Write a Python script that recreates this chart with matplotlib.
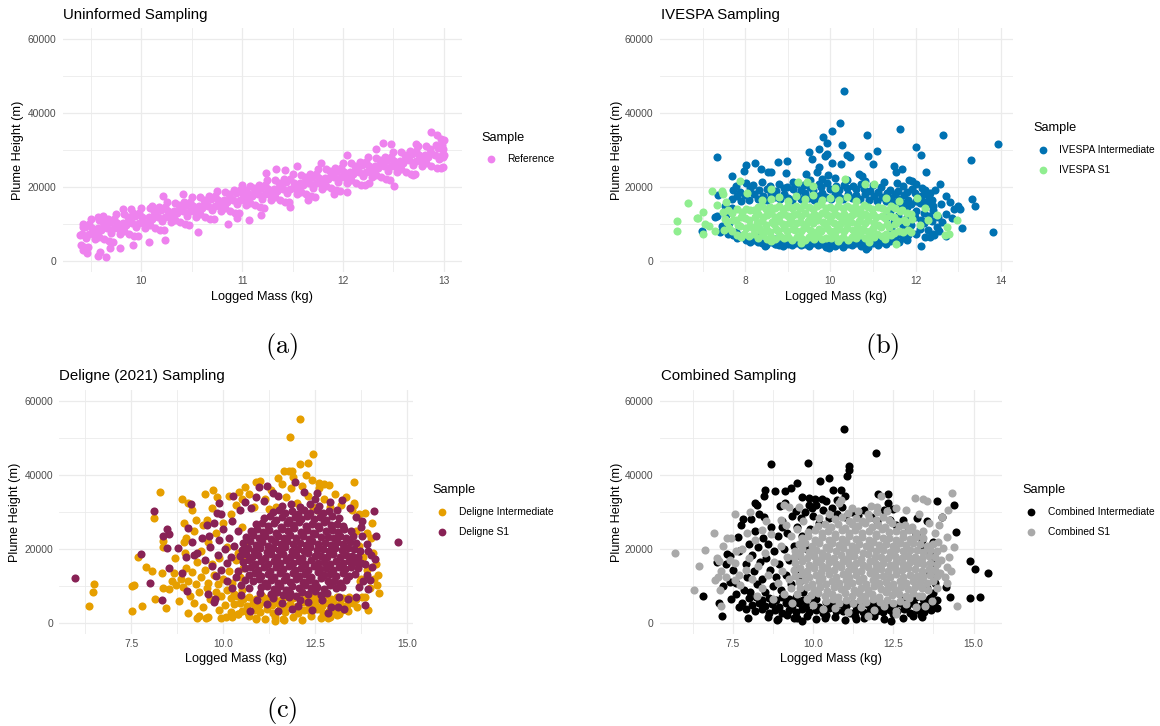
import matplotlib
matplotlib.use("Agg")
import matplotlib.pyplot as plt
from matplotlib.lines import Line2D

W, H = 1160, 726

# ---- panel (a): uninformed sampling, (logged mass, plume height) ----
ref_points = [
    (9.40, 4400), (9.41, 7400), (9.42, 9900), (9.43, 3800),
    (9.45, 6100), (9.44, 9100), (9.47, 3700), (9.48, 9900),
    (9.51, 8800), (9.48, 7300), (9.50, 11300), (9.53, 7200),
    (9.54, 5900), (9.57, 8800), (9.56, 7200), (9.58, 11200),
    (9.62, 10500), (9.58, 6600), (9.60, 8300), (9.63, 9500),
    (9.63, 5900), (9.66, 8900), (9.67, 11400), (9.68, 5300),
    (9.70, 7600), (9.69, 10600), (9.72, 5200), (9.73, 11400),
    (9.76, 10300), (9.73, 8800), (9.75, 12800), (9.78, 8700),
    (9.79, 7400), (9.82, 10300), (9.81, 8700), (9.83, 12700),
    (9.87, 12000), (9.83, 8100), (9.85, 9800), (9.88, 11000),
    (9.88, 7400), (9.91, 10400), (9.92, 12900), (9.93, 6800),
    (9.95, 9200), (9.94, 12200), (9.97, 6800), (9.98, 13000),
    (10.01, 11900), (9.98, 10400), (10.00, 14400), (10.03, 10300),
    (10.04, 9000), (10.07, 11900), (10.06, 10300), (10.08, 14300),
    (10.12, 13600), (10.08, 9700), (10.10, 11400), (10.13, 12600),
    (10.13, 9000), (10.16, 12000), (10.17, 14500), (10.18, 8400),
    (10.20, 10700), (10.19, 13700), (10.22, 8300), (10.23, 14500),
    (10.26, 13400), (10.23, 11900), (10.25, 15900), (10.28, 11800),
    (10.29, 10500), (10.32, 13400), (10.31, 11800), (10.33, 15800),
    (10.37, 15100), (10.33, 11200), (10.35, 12900), (10.38, 14100),
    (10.38, 10500), (10.41, 13500), (10.42, 16000), (10.43, 9900),
    (10.45, 12200), (10.44, 15200), (10.47, 9800), (10.48, 16000),
    (10.51, 14900), (10.48, 13400), (10.50, 17400), (10.53, 13300),
    (10.54, 12000), (10.57, 14900), (10.56, 13300), (10.58, 17300),
    (10.62, 16600), (10.58, 12700), (10.60, 14400), (10.63, 15600),
    (10.63, 12000), (10.66, 15000), (10.67, 17500), (10.68, 11400),
    (10.70, 13700), (10.69, 16700), (10.72, 11300), (10.73, 17500),
    (10.76, 16400), (10.73, 14900), (10.75, 18900), (10.78, 14800),
    (10.79, 13500), (10.82, 16400), (10.81, 14800), (10.83, 18800),
    (10.87, 18100), (10.83, 14200), (10.85, 15900), (10.88, 17100),
    (10.88, 13600), (10.91, 16600), (10.92, 19100), (10.93, 13000),
    (10.95, 15300), (10.94, 18300), (10.97, 12900), (10.98, 19100),
    (11.01, 18000), (10.98, 16500), (11.00, 20500), (11.03, 16400),
    (11.04, 15100), (11.07, 18000), (11.06, 16400), (11.08, 20400),
    (11.12, 19700), (11.08, 15800), (11.10, 17500), (11.13, 18700),
    (11.13, 15100), (11.16, 18100), (11.17, 20600), (11.18, 14500),
    (11.20, 16800), (11.19, 19800), (11.22, 14400), (11.23, 20600),
    (11.26, 19500), (11.23, 18000), (11.25, 22000), (11.28, 17900),
    (11.29, 16600), (11.32, 19500), (11.31, 17900), (11.33, 21900),
    (11.37, 21200), (11.33, 17300), (11.35, 19000), (11.38, 20200),
    (11.38, 16600), (11.41, 19600), (11.42, 22100), (11.43, 16000),
    (11.45, 18300), (11.44, 21300), (11.47, 15900), (11.48, 22100),
    (11.51, 21000), (11.48, 19500), (11.50, 23500), (11.53, 19400),
    (11.54, 18100), (11.57, 21000), (11.56, 19400), (11.58, 23400),
    (11.62, 22700), (11.58, 18800), (11.60, 20500), (11.63, 21700),
    (11.63, 18100), (11.66, 21100), (11.67, 23600), (11.68, 17500),
    (11.70, 19800), (11.69, 22800), (11.72, 17400), (11.73, 23600),
    (11.76, 22500), (11.73, 21000), (11.75, 25000), (11.78, 20900),
    (11.79, 19600), (11.82, 22500), (11.81, 20900), (11.83, 24900),
    (11.87, 24300), (11.83, 20400), (11.85, 22100), (11.88, 23300),
    (11.88, 19700), (11.91, 22700), (11.92, 25200), (11.93, 19100),
    (11.95, 21400), (11.94, 24400), (11.97, 19000), (11.98, 25200),
    (12.01, 24100), (11.98, 22600), (12.00, 26600), (12.03, 22500),
    (12.04, 21200), (12.07, 24100), (12.06, 22500), (12.08, 26500),
    (12.12, 25800), (12.08, 21900), (12.10, 23600), (12.13, 24800),
    (12.13, 21200), (12.16, 24200), (12.17, 26700), (12.18, 20600),
    (12.20, 22900), (12.19, 25900), (12.22, 20500), (12.23, 26700),
    (12.26, 25600), (12.23, 24100), (12.25, 28100), (12.28, 24000),
    (12.29, 22700), (12.32, 25600), (12.31, 24000), (12.33, 28000),
    (12.37, 27300), (12.33, 23400), (12.35, 25100), (12.38, 26300),
    (12.38, 22700), (12.41, 25700), (12.42, 28200), (12.43, 22100),
    (12.45, 24400), (12.44, 27400), (12.47, 22000), (12.48, 28200),
    (12.51, 27100), (12.48, 25600), (12.50, 29600), (12.53, 25500),
    (12.54, 24200), (12.57, 27100), (12.56, 25500), (12.58, 29500),
    (12.62, 28800), (12.58, 24900), (12.60, 26600), (12.63, 27800),
    (12.63, 24200), (12.66, 27200), (12.67, 29700), (12.68, 23600),
    (12.70, 25900), (12.69, 28900), (12.72, 23500), (12.73, 29700),
    (12.76, 28600), (12.73, 27100), (12.75, 31100), (12.78, 27000),
    (12.79, 25700), (12.82, 28600), (12.81, 27000), (12.83, 31000),
    (12.87, 30300), (12.83, 26400), (12.85, 28100), (12.88, 29300),
    (12.88, 25800), (12.91, 28800), (12.92, 31300), (12.93, 25200),
    (12.95, 27500), (12.94, 30500), (12.97, 25100), (12.98, 31300),
    (12.99, 30200), (12.98, 28700), (13.00, 32700), (13.00, 28600),
    (9.39, 7000), (9.42, 9300), (9.42, 3000), (9.46, 2100), (9.57, 1200),
    (9.65, 1000), (9.59, 2500), (9.57, 12000), (9.62, 12200), (9.69, 3400),
    (9.79, 3400), (9.82, 14000), (9.90, 14000), (9.92, 4300), (10.07, 5000),
    (10.10, 15000), (10.21, 17500), (10.23, 5700), (10.41, 18100), (10.56, 7900),
    (10.86, 10000), (10.95, 11500), (11.04, 19200), (11.07, 11100), (11.19, 12400),
    (11.24, 23700), (11.34, 25000), (11.43, 24600), (11.48, 14700), (11.54, 25700),
    (12.88, 34900), (12.93, 34000), (12.40, 31950), (12.48, 31800), (12.33, 30200),
    (12.51, 20250), (12.04, 28600), (12.04, 18700), (12.20, 26400), (11.78, 26550),
    (11.65, 16500), (12.99, 25500), (12.99, 28200), (12.97, 33100), (12.70, 23200),
    (12.73, 31600), (12.26, 21150), (11.91, 18000),
]

# ---- panel (b): IVESPA sampling ----
ivespa_int = [
    (7.70, 16800), (7.72, 19300), (7.80, 17500), (7.78, 20200), (7.91, 16300), (7.89, 18700),
    (8.00, 17900), (8.02, 21000), (8.10, 16600), (8.12, 19800), (8.21, 18200), (8.19, 20600),
    (8.30, 16900), (8.32, 19100), (8.41, 17600), (8.39, 21300), (8.50, 16400), (8.52, 19600),
    (8.61, 18000), (8.59, 20400), (8.70, 17200), (8.72, 19000), (8.81, 16700), (8.79, 20800),
    (8.90, 18100), (8.92, 19700), (9.01, 17000), (8.99, 20100), (9.10, 16500), (9.12, 19400),
    (9.11, 21500), (9.21, 17800), (9.19, 20900), (9.30, 16900), (9.32, 19200), (9.41, 18300),
    (9.39, 20500), (9.50, 17100), (9.52, 19900), (9.51, 21800), (9.61, 16600), (9.59, 19100),
    (9.70, 17700), (9.72, 20700), (9.81, 18400), (9.79, 20000), (9.80, 22300), (9.90, 17300),
    (9.92, 21100), (10.01, 16800), (9.99, 19500), (10.10, 18000), (10.12, 20300), (10.11, 22500),
    (10.21, 17400), (10.19, 19300), (10.30, 16700), (10.32, 20600), (10.41, 18200), (10.39, 19800),
    (10.40, 21900), (10.50, 17000), (10.52, 20200), (10.61, 17800), (10.59, 19400), (10.70, 16900),
    (10.72, 20800), (10.81, 18100), (10.79, 19600), (10.80, 21600), (10.90, 16400), (10.92, 19000),
    (11.01, 17600), (10.99, 20500), (11.10, 16300), (11.12, 18800), (11.21, 17300), (11.19, 19900),
    (11.30, 16100), (11.32, 18500), (11.41, 17000), (11.39, 19300), (11.50, 15900), (11.52, 18200),
    (11.61, 16800), (11.59, 19000), (11.70, 15700), (11.72, 17900), (11.71, 20200), (11.81, 16500),
    (11.79, 18600), (11.90, 15400), (11.92, 19500), (11.91, 21600), (12.01, 16200), (11.99, 18300),
    (12.00, 20800), (12.10, 15600), (12.12, 17700), (12.21, 16000), (12.19, 18000), (12.30, 15300),
    (12.32, 17300), (12.41, 14800), (12.39, 16400),
    (11.25, 21400), (11.55, 21000), (11.85, 22000), (12.15, 19800), (12.45, 19300), (12.60, 15500),
    (12.70, 12800), (12.85, 11500), (12.90, 14000), (12.55, 8200), (12.70, 6800),
    (7.60, 7400), (7.71, 6900), (7.80, 6300), (7.79, 7800), (7.90, 6800), (8.01, 5600),
    (8.10, 6300), (8.12, 5000), (8.20, 5800), (8.31, 5200), (8.29, 6500), (8.40, 4800),
    (8.51, 5500), (8.49, 4300), (8.60, 5100), (8.71, 4600), (8.69, 5900), (8.80, 4400),
    (8.91, 5300), (8.89, 4000), (9.00, 4700), (9.11, 5500), (9.09, 4200), (9.20, 4900),
    (9.31, 4300), (9.29, 5700), (9.40, 4600), (9.51, 5200), (9.49, 4000), (9.60, 4800),
    (9.71, 4200), (9.69, 5600), (9.80, 4500), (9.91, 5300), (9.89, 3800), (10.00, 4900),
    (10.11, 4100), (10.09, 5600), (10.20, 4600), (10.31, 5100), (10.29, 3900), (10.40, 4700),
    (10.51, 4300), (10.49, 5500), (10.60, 4900), (10.71, 4000), (10.69, 5400), (10.80, 4600),
    (10.91, 5200), (10.89, 3700), (11.00, 4800), (11.11, 4300), (11.09, 5700), (11.20, 5000),
    (11.31, 4600), (11.29, 6000), (11.40, 5300), (11.51, 5800), (11.60, 5100), (11.71, 6200),
    (11.80, 5700),
    (11.30, 11500), (11.41, 8800), (11.39, 13500), (11.50, 10600), (11.61, 7400), (11.59, 12300),
    (11.60, 14800), (11.70, 9500), (11.81, 7000), (11.79, 12000), (11.80, 14500), (11.90, 9800),
    (12.01, 7200), (11.99, 11800), (12.00, 13600), (12.10, 8600), (12.12, 11000), (12.21, 6600),
    (12.19, 10200), (12.20, 13000), (12.30, 8300), (12.32, 12300), (12.41, 7300), (12.39, 10900),
    (12.40, 13900), (12.50, 9200), (12.52, 11800), (12.61, 10500),
    (7.45, 9500), (7.55, 12500), (7.62, 10200), (7.68, 14200), (7.30, 11800), (7.35, 12200),
    (7.40, 7800), (7.52, 15000),
    (10.32, 46100), (10.22, 37400), (10.04, 35300), (9.82, 33500), (9.91, 32000), (9.73, 30300),
    (9.50, 29500), (10.26, 31300), (9.93, 29000), (9.87, 28400), (9.56, 27600), (10.40, 28800),
    (10.47, 28100), (10.85, 34200), (10.87, 28500), (11.09, 29700), (10.99, 26300), (11.63, 35600),
    (12.00, 30800), (12.12, 28600), (12.63, 34000), (13.30, 27300), (13.92, 31600), (13.81, 7900),
    (13.31, 16800), (13.38, 15000), (13.00, 14900), (13.03, 14000), (13.08, 9000), (12.80, 16000),
    (12.71, 17600), (12.56, 20700), (12.23, 24100), (12.22, 19100), (12.33, 18500), (12.12, 4100),
    (12.34, 6500), (12.44, 7000), (7.33, 28100), (6.98, 8100), (7.37, 17800), (7.70, 23000),
    (8.02, 26100), (8.24, 26600), (7.98, 24300), (8.37, 24900), (8.54, 24100), (8.60, 24100),
    (8.76, 26800), (8.99, 27000), (8.96, 23900), (9.43, 23600), (9.68, 24100), (9.72, 25400),
    (10.03, 26600), (9.95, 23400), (10.25, 26300), (10.67, 23600), (10.75, 23000), (11.49, 25800),
    (11.67, 25000), (11.53, 24100), (8.46, 4100), (8.72, 4700), (8.89, 5400), (9.56, 5400),
    (9.97, 3600), (9.95, 4500), (10.46, 4500), (10.83, 3200), (10.80, 4100), (10.81, 5400),
    (9.79, 5000),
]

ivespa_s1 = [
    (7.50, 8500), (7.52, 11400), (7.48, 13300), (7.61, 8900), (7.58, 10600), (7.60, 13900),
    (7.69, 8200), (7.72, 11200), (7.70, 13100),
    (7.80, 7000), (7.82, 9700), (7.78, 11100), (7.81, 14000), (7.91, 6600), (7.88, 9400),
    (7.90, 11900), (7.92, 13300), (7.98, 7300), (8.02, 8800), (8.00, 11500), (8.01, 14100),
    (8.10, 6800), (8.12, 9500), (8.08, 11000), (8.11, 13700), (8.21, 7400), (8.19, 9000),
    (8.22, 11800), (8.20, 13900),
    (8.30, 6200), (8.32, 8800), (8.28, 10200), (8.31, 12600), (8.29, 14500),
    (8.41, 6900), (8.38, 8100), (8.40, 10700), (8.42, 12000), (8.39, 14900), (8.40, 16400),
    (8.50, 6000), (8.52, 8500), (8.48, 9800), (8.51, 12500), (8.49, 14000),
    (8.61, 6500), (8.59, 7900), (8.62, 10500), (8.60, 12900), (8.58, 14600), (8.61, 16900),
    (8.70, 5900), (8.72, 8600), (8.68, 10100), (8.71, 11900), (8.69, 14300),
    (8.81, 6700), (8.78, 8200), (8.80, 10800), (8.82, 12400), (8.79, 15000), (8.80, 17200),
    (8.90, 6100), (8.92, 8900), (8.88, 9900), (8.91, 12700), (8.89, 14100),
    (9.01, 6400), (8.99, 8000), (9.02, 10400), (9.00, 12100), (8.98, 14700), (9.01, 16300),
    (9.10, 5800), (9.12, 8700), (9.08, 10900), (9.11, 12500), (9.09, 14400),
    (9.21, 6600), (9.18, 8300), (9.20, 10300), (9.22, 12800), (9.19, 14900), (9.20, 17500),
    (9.30, 6200), (9.32, 8100), (9.28, 10600), (9.31, 12200), (9.29, 14200),
    (9.41, 5700), (9.39, 8800), (9.42, 10000), (9.40, 13000), (9.38, 15200), (9.41, 16800),
    (9.50, 6500), (9.52, 8400), (9.48, 10700), (9.51, 12000), (9.49, 14500),
    (9.61, 6000), (9.58, 7900), (9.60, 10200), (9.62, 12600), (9.59, 14000), (9.60, 17800),
    (9.70, 6800), (9.72, 8600), (9.68, 11000), (9.71, 12300), (9.69, 14800),
    (9.81, 5900), (9.79, 8200), (9.82, 10500), (9.80, 12900), (9.78, 15300), (9.81, 16600),
    (9.90, 6300), (9.92, 9000), (9.88, 10100), (9.91, 12400), (9.89, 14300),
    (10.01, 6100), (9.98, 8000), (10.00, 10800), (10.02, 12100), (9.99, 14600), (10.00, 17100),
    (10.10, 6700), (10.12, 8500), (10.08, 10400), (10.11, 12700), (10.09, 14100),
    (10.21, 6000), (10.19, 8700), (10.22, 10000), (10.20, 12300), (10.18, 15000), (10.21, 16500),
    (10.30, 6400), (10.32, 8100), (10.28, 10900), (10.31, 12800), (10.29, 14400),
    (10.41, 5800), (10.38, 8900), (10.40, 10300), (10.42, 12000), (10.39, 14800), (10.40, 17400),
    (10.50, 6600), (10.52, 8300), (10.48, 10600), (10.51, 12500), (10.49, 14200),
    (10.61, 6200), (10.59, 8000), (10.62, 10100), (10.60, 12900), (10.58, 14700), (10.61, 16200),
    (10.70, 6900), (10.72, 8700), (10.68, 10800), (10.71, 12200), (10.69, 14000),
    (10.81, 6300), (10.78, 8400), (10.80, 10400), (10.82, 12600), (10.79, 15100),
    (10.90, 7000), (10.92, 8200), (10.88, 11000), (10.91, 12300), (10.89, 14500),
    (11.01, 6500), (10.99, 8800), (11.02, 10200), (11.00, 12800), (10.98, 14100),
    (11.10, 7200), (11.12, 9600), (11.08, 11800), (11.11, 14600),
    (11.21, 6800), (11.19, 9200), (11.22, 12300), (11.20, 14200),
    (11.30, 7400), (11.32, 9900), (11.28, 11600), (11.31, 13800),
    (11.41, 7000), (11.38, 9300), (11.40, 12200), (11.42, 14900),
    (11.50, 7600), (11.52, 10100), (11.48, 11900), (11.51, 14300),
    (11.61, 8200), (11.59, 10800), (11.62, 13400), (11.70, 7700), (11.72, 11200), (11.68, 13800),
    (11.81, 8400), (11.78, 10500), (11.80, 13000), (11.90, 7900), (11.92, 11400), (11.88, 12600),
    (6.39, 10800), (6.41, 8100), (6.66, 15600), (6.86, 11700), (6.90, 11500), (7.00, 13200),
    (7.02, 7200), (7.05, 10000), (7.15, 9500), (7.21, 18900), (7.30, 8200), (7.35, 15200),
    (7.45, 18900), (7.49, 18000), (7.55, 16000), (7.88, 21600), (8.05, 18500), (8.60, 19500),
    (9.23, 21400), (9.44, 21400), (9.60, 20300), (10.34, 22300), (10.10, 19800), (10.80, 20900),
    (11.01, 20700), (11.30, 17000), (11.60, 16200), (12.02, 17100), (12.22, 14400), (12.10, 9600),
    (12.30, 11000), (12.50, 12500), (12.74, 9200), (12.97, 11100), (12.77, 7200), (12.69, 7000),
    (11.54, 4500), (11.28, 5900), (10.17, 5400), (10.90, 5200), (9.30, 4900), (8.60, 5300),
]

# ---- panel (c): Deligne (2021) sampling ----
deligne_int = [
    (10.90, 1500), (11.15, 1200), (11.40, 1800), (11.65, 1000), (11.90, 1600), (12.15, 900),
    (12.40, 1900), (12.65, 1300), (12.90, 1700), (13.10, 2200),
    (10.50, 3300), (10.67, 2800), (10.84, 3700), (11.01, 3000), (11.18, 3900), (11.35, 2700),
    (11.52, 3500), (11.69, 3100), (11.86, 4000), (12.03, 2900), (12.20, 3600), (12.37, 3200),
    (12.54, 3800), (12.71, 2800), (12.88, 3400), (13.05, 3000), (13.22, 3700), (13.39, 3300),
    (10.30, 5100), (10.47, 5600), (10.64, 4700), (10.81, 5400), (10.98, 4900), (11.15, 5700),
    (11.32, 5000), (11.49, 5500), (11.66, 4800), (11.83, 5300), (12.00, 4600), (12.17, 5800),
    (12.34, 5000), (12.51, 5400), (12.68, 4700), (12.85, 5600), (13.02, 5100), (13.19, 5300),
    (13.36, 4900), (13.53, 5500),
    (10.20, 6900), (10.37, 7300), (10.54, 6500), (10.71, 7100), (10.88, 6600), (11.05, 7400),
    (11.22, 6800), (11.39, 7200), (11.56, 6400), (11.73, 7000), (11.90, 6700), (12.07, 7300),
    (12.24, 6600), (12.41, 7100), (12.58, 6900), (12.75, 7400), (12.92, 6500), (13.09, 7000),
    (13.26, 6800), (13.43, 7200), (13.60, 6600), (13.77, 7100),
    (8.85, 12000), (8.90, 9700), (9.00, 15000), (9.05, 11500), (9.10, 7500), (9.15, 13800),
    (9.20, 5500), (9.25, 10500), (9.30, 16500), (9.35, 8500), (9.40, 12500), (9.45, 4500),
    (9.50, 14500), (9.55, 9500), (9.60, 11000), (9.65, 6500), (9.70, 16000), (9.75, 13000),
    (9.80, 8500), (9.85, 10500), (9.90, 3500), (9.95, 7500), (10.00, 12000), (10.05, 5000),
    (10.10, 9000), (10.15, 14000), (10.20, 3000), (10.25, 11000), (10.30, 8000), (10.35, 17000),
    (10.40, 2500), (10.45, 12500), (10.50, 9000), (10.55, 15000), (9.40, 19500), (9.60, 22000),
    (9.80, 24500), (10.00, 27000), (10.20, 29500), (9.55, 28000), (9.70, 31000), (10.35, 32000),
    (10.50, 26000), (10.60, 21000), (9.20, 25000), (9.00, 23000), (8.95, 19000), (9.15, 30500),
    (10.10, 20500), (9.90, 17500), (10.40, 19000), (10.65, 18000), (8.70, 17500), (8.60, 11500),
    (8.80, 6000), (9.35, 2000), (9.60, 1600), (9.95, 1400), (10.25, 1800), (10.70, 2100),
    (10.50, 33500), (10.70, 35000), (10.85, 31500), (11.00, 38500), (11.15, 33500), (11.30, 36000),
    (11.45, 31500), (11.60, 37500), (11.70, 34000), (11.85, 36500), (12.00, 32500), (12.15, 37000),
    (12.30, 34500), (12.45, 31500), (12.60, 36500), (12.75, 33500), (12.90, 31500), (13.05, 35000),
    (13.20, 32000), (13.35, 34000), (13.50, 30500), (11.25, 30800), (12.55, 30500), (11.90, 39500),
    (12.25, 40000),
    (13.60, 25000), (13.70, 21000), (13.80, 18000), (13.90, 14500), (13.75, 12000), (14.00, 9500),
    (13.85, 7000), (13.65, 4500), (13.95, 3500), (14.10, 12000), (14.15, 16000), (13.70, 29500),
    (13.55, 32000), (14.05, 27000), (13.90, 24500),
    (12.10, 55300), (11.83, 50300), (12.45, 45600), (12.10, 43100), (12.30, 43200), (11.65, 41000),
    (11.80, 41000), (11.87, 41000), (11.49, 39200), (12.42, 38700), (12.62, 38000), (12.75, 37700),
    (12.87, 37300), (13.55, 38200), (8.28, 35400), (8.87, 33500), (9.03, 32400), (9.51, 34800),
    (9.71, 36000), (9.84, 34200), (10.15, 34400), (10.44, 35500), (10.59, 36700), (10.89, 38200),
    (8.13, 28500), (7.69, 18000), (7.89, 15100), (8.07, 14200), (7.51, 10100), (7.58, 10400),
    (6.48, 10600), (6.45, 8500), (6.36, 4700), (7.51, 3300), (7.80, 4700), (8.15, 6500),
    (8.44, 4000), (8.36, 9500), (8.53, 9200), (8.73, 10400), (8.33, 13500), (8.65, 13700),
    (8.93, 27000), (8.35, 22200), (8.35, 20500), (8.93, 22000), (9.25, 27900), (9.45, 26500),
    (9.03, 2700), (9.30, 1500), (9.53, 1500), (10.07, 1800), (10.39, 2500), (11.42, 700),
    (11.62, 1100), (10.89, 1100), (12.86, 1300), (13.16, 2500), (14.22, 13000), (14.18, 10400),
    (14.23, 8100), (14.07, 19100), (14.03, 23000), (13.57, 32600), (13.85, 29700), (13.71, 11300),
]

deligne_s1 = [
    (11.30, 8000), (11.47, 8500), (11.64, 7600), (11.81, 8300), (11.98, 7400), (12.15, 8400),
    (12.32, 7800), (12.49, 8600), (12.66, 7700), (12.83, 8200),
    (11.03, 9700), (11.20, 10200), (11.37, 9300), (11.54, 10000), (11.71, 9100), (11.88, 10100),
    (12.05, 9500), (12.22, 10300), (12.39, 9400), (12.56, 9900), (12.73, 9200), (12.90, 10400),
    (13.07, 9600), (13.24, 9800),
    (10.80, 11400), (10.97, 11900), (11.14, 11000), (11.31, 11700), (11.48, 10800), (11.65, 11800),
    (11.82, 11200), (11.99, 12000), (12.16, 11100), (12.33, 11600), (12.50, 10900), (12.67, 12100),
    (12.84, 11300), (13.01, 11500), (13.18, 11000), (13.35, 11800),
    (10.70, 13100), (10.87, 13600), (11.04, 12700), (11.21, 13400), (11.38, 12500), (11.55, 13500),
    (11.72, 12900), (11.89, 13700), (12.06, 12800), (12.23, 13300), (12.40, 12600), (12.57, 13800),
    (12.74, 13000), (12.91, 13200), (13.08, 12700), (13.25, 13500), (13.42, 12900), (13.59, 13400),
    (10.60, 14800), (10.77, 15300), (10.94, 14400), (11.11, 15100), (11.28, 14200), (11.45, 15200),
    (11.62, 14600), (11.79, 15400), (11.96, 14500), (12.13, 15000), (12.30, 14300), (12.47, 15500),
    (12.64, 14700), (12.81, 14900), (12.98, 14400), (13.15, 15200), (13.32, 14600), (13.49, 15100),
    (13.66, 14900),
    (10.53, 16500), (10.70, 17000), (10.87, 16100), (11.04, 16800), (11.21, 15900), (11.38, 16900),
    (11.55, 16300), (11.72, 17100), (11.89, 16200), (12.06, 16700), (12.23, 16000), (12.40, 17200),
    (12.57, 16400), (12.74, 16600), (12.91, 16100), (13.08, 16900), (13.25, 16300), (13.42, 16800),
    (13.59, 16600), (13.76, 16200),
    (10.45, 18200), (10.62, 18700), (10.79, 17800), (10.96, 18500), (11.13, 17600), (11.30, 18600),
    (11.47, 18000), (11.64, 18800), (11.81, 17900), (11.98, 18400), (12.15, 17700), (12.32, 18900),
    (12.49, 18100), (12.66, 18300), (12.83, 17800), (13.00, 18600), (13.17, 18000), (13.34, 18500),
    (13.51, 18300), (13.68, 17900),
    (10.50, 19900), (10.67, 20400), (10.84, 19500), (11.01, 20200), (11.18, 19300), (11.35, 20300),
    (11.52, 19700), (11.69, 20500), (11.86, 19600), (12.03, 20100), (12.20, 19400), (12.37, 20600),
    (12.54, 19800), (12.71, 20000), (12.88, 19500), (13.05, 20300), (13.22, 19700), (13.39, 20200),
    (13.56, 20000), (13.73, 19600),
    (10.55, 21600), (10.72, 22100), (10.89, 21200), (11.06, 21900), (11.23, 21000), (11.40, 22000),
    (11.57, 21400), (11.74, 22200), (11.91, 21300), (12.08, 21800), (12.25, 21100), (12.42, 22300),
    (12.59, 21500), (12.76, 21700), (12.93, 21200), (13.10, 22000), (13.27, 21400), (13.44, 21900),
    (13.61, 21700),
    (10.63, 23300), (10.80, 23800), (10.97, 22900), (11.14, 23600), (11.31, 22700), (11.48, 23700),
    (11.65, 23100), (11.82, 23900), (11.99, 23000), (12.16, 23500), (12.33, 22800), (12.50, 24000),
    (12.67, 23200), (12.84, 23400), (13.01, 22900), (13.18, 23700), (13.35, 23100), (13.52, 23600),
    (10.75, 25000), (10.92, 25500), (11.09, 24600), (11.26, 25300), (11.43, 24400), (11.60, 25400),
    (11.77, 24800), (11.94, 25600), (12.11, 24700), (12.28, 25200), (12.45, 24500), (12.62, 25700),
    (12.79, 24900), (12.96, 25100), (13.13, 24600), (13.30, 25400), (13.47, 24800),
    (10.88, 26700), (11.05, 27200), (11.22, 26300), (11.39, 27000), (11.56, 26100), (11.73, 27100),
    (11.90, 26500), (12.07, 27300), (12.24, 26400), (12.41, 26900), (12.58, 26200), (12.75, 27400),
    (12.92, 26600), (13.09, 26800), (13.26, 26300),
    (11.10, 28400), (11.27, 28900), (11.44, 28000), (11.61, 28700), (11.78, 27800), (11.95, 28800),
    (12.12, 28200), (12.29, 29000), (12.46, 28100), (12.63, 28600), (12.80, 27900), (12.97, 29100),
    (13.14, 28300),
    (11.35, 30100), (11.52, 30600), (11.69, 29700), (11.86, 30400), (12.03, 29500), (12.20, 30500),
    (12.37, 29900), (12.54, 30700), (12.71, 29800), (12.88, 30300),
    (11.60, 31800), (11.85, 32300), (12.10, 31500), (12.35, 32100), (12.60, 31600),
    (5.96, 12300), (8.13, 30300), (7.76, 18700), (8.01, 11000), (8.33, 6300), (8.35, 23700),
    (8.48, 25400), (8.53, 24100), (8.48, 20300), (8.53, 14900), (8.77, 20300), (8.89, 13500),
    (9.01, 8800), (9.12, 32100), (9.05, 25700), (9.16, 22000), (9.00, 18000), (9.20, 18500),
    (9.30, 19000), (9.42, 23000), (9.62, 23600), (9.83, 29700), (9.94, 29500), (9.89, 32600),
    (10.28, 34400), (10.98, 36900), (11.19, 37100), (11.36, 35100), (11.96, 38100), (12.56, 35300),
    (13.23, 33300), (13.46, 31100), (14.10, 30300), (14.75, 21900), (14.16, 23700), (14.01, 18500),
    (14.14, 17300), (13.95, 9200), (13.87, 5000), (13.78, 27600), (13.78, 23600), (10.74, 3200),
    (11.86, 3800), (12.03, 4700), (12.42, 3600), (12.94, 4500), (13.12, 4500), (11.80, 7200),
    (11.35, 6800), (10.92, 6300), (10.48, 7700), (9.75, 5800), (9.78, 6500), (9.59, 7900),
    (9.80, 12800), (10.10, 16200), (10.39, 14000), (10.48, 10400), (10.25, 9500),
    (9.50, 17000), (9.65, 20500), (9.70, 15500), (9.85, 18500), (9.90, 22500), (9.95, 14500),
    (10.00, 25500), (10.05, 20000), (10.15, 23000), (10.20, 17800), (10.25, 27500), (10.30, 21000),
    (10.35, 12500), (10.40, 24800), (10.10, 11500), (9.55, 26500), (9.75, 27200), (10.45, 30500),
    (10.60, 32800), (10.75, 31000), (10.90, 34000), (11.10, 33000), (11.50, 34500), (12.20, 35500),
    (12.50, 33500), (12.90, 32800), (13.10, 30500), (13.60, 28700), (13.75, 26000), (13.90, 21500),
    (13.95, 19500), (13.85, 16000), (14.05, 15200), (13.90, 13000), (13.80, 11500), (14.00, 11800),
    (13.70, 9800), (13.60, 7200), (13.40, 6500), (13.15, 7000), (12.70, 6200), (12.30, 5800),
    (12.10, 6400), (11.60, 5600), (11.20, 5200), (11.00, 8200), (10.70, 9500), (10.60, 11800),
    (13.30, 3900), (11.50, 3400), (12.85, 2700),
]

# ---- panel (d): combined sampling ----
combined_int = [
    (8.60, 1800), (8.90, 1100), (9.20, 2200), (9.50, 1400), (9.80, 2000), (10.10, 1200),
    (10.40, 2300), (10.70, 1600), (11.00, 1000), (11.30, 2100), (11.60, 1500), (11.90, 1900),
    (12.20, 1100), (12.50, 2400), (12.80, 1300), (13.10, 2000), (13.40, 1600),
    (8.20, 3300), (8.41, 3800), (8.62, 2900), (8.83, 3600), (9.04, 2700), (9.25, 3700),
    (9.46, 3100), (9.67, 3900), (9.88, 3000), (10.09, 3500), (10.30, 2800), (10.51, 4000),
    (10.72, 3200), (10.93, 3400), (11.14, 2900), (11.35, 3700), (11.56, 3100), (11.77, 3600),
    (11.98, 3400), (12.19, 3000), (12.40, 3500), (12.61, 3200), (12.82, 3800), (13.03, 2900),
    (13.24, 3600), (13.45, 3100), (13.66, 3500),
    (8.10, 5000), (8.31, 5500), (8.52, 4600), (8.73, 5300), (8.94, 4400), (9.15, 5400),
    (9.36, 4800), (9.57, 5600), (9.78, 4700), (9.99, 5200), (10.20, 4500), (10.41, 5700),
    (10.62, 4900), (10.83, 5100), (11.04, 4600), (11.25, 5400), (11.46, 4800), (11.67, 5300),
    (11.88, 5100), (12.09, 4700), (12.30, 5200), (12.51, 4900), (12.72, 5500), (12.93, 4600),
    (13.14, 5300), (13.35, 4800), (13.56, 5200), (13.77, 5000),
    (8.00, 6700), (8.21, 7100), (8.42, 6300), (8.63, 6900), (8.84, 6200), (9.05, 7200),
    (9.26, 6600), (9.47, 7000), (9.68, 6400), (9.89, 6800), (10.10, 6500), (12.80, 6900),
    (13.01, 6300), (13.22, 7100), (13.43, 6600), (13.64, 6800), (13.85, 6400),
    (7.85, 9000), (7.90, 16000), (7.95, 12500), (8.00, 21500), (8.05, 8500), (8.10, 18500),
    (8.15, 14000), (8.20, 25000), (8.25, 10500), (8.30, 20500), (8.35, 16500), (8.40, 12000),
    (8.45, 23000), (8.50, 8500), (8.55, 17500), (8.60, 21500), (8.65, 14500), (8.70, 26000),
    (8.75, 10000), (8.80, 19500), (8.85, 12500), (8.90, 23500), (8.95, 16000), (9.00, 9000),
    (9.05, 27500), (9.10, 20000), (9.15, 13000), (9.20, 24500), (9.25, 17000), (9.30, 10500),
    (9.35, 29000), (9.40, 21000), (9.45, 14500), (9.50, 26000), (9.55, 18500), (9.60, 11500),
    (9.65, 23500), (9.70, 8500), (9.75, 30000), (9.80, 20000), (9.90, 25500), (10.00, 29000),
    (10.10, 32000), (10.20, 27000), (10.30, 30500), (10.40, 33000), (10.50, 28500), (10.60, 31000),
    (10.75, 29500), (10.90, 31500), (11.00, 28800), (11.20, 30000), (11.40, 29200), (11.60, 30500),
    (11.80, 28800), (12.00, 27500), (12.20, 30500), (12.40, 28000), (12.60, 26500), (12.80, 27800),
    (13.00, 25500), (13.20, 24000), (13.40, 22500), (13.60, 19000), (13.75, 16500), (13.65, 13500),
    (13.80, 11000), (13.55, 9500), (7.60, 8000), (7.50, 14500), (7.70, 19500), (7.30, 16000),
    (7.20, 10000), (7.45, 6500), (7.90, 3800), (7.70, 4500),
    (10.97, 52400), (11.95, 45900), (8.70, 42900), (9.85, 43200), (11.11, 42500), (11.13, 41400),
    (11.06, 39800), (10.49, 39200), (10.23, 38500), (9.49, 38000), (9.32, 36600), (9.14, 35700),
    (8.83, 35600), (8.51, 36000), (8.46, 34400), (8.18, 32600), (8.25, 32000), (9.66, 34000),
    (9.87, 33800), (10.06, 33500), (10.27, 33500), (10.61, 36000), (10.87, 36000), (11.01, 34400),
    (10.76, 33300), (12.02, 34900), (12.34, 34900), (12.34, 32400), (12.49, 30800), (13.85, 32900),
    (14.40, 32000), (14.46, 24600), (14.90, 16700), (15.06, 14700), (15.46, 13700), (14.88, 6700),
    (15.19, 7200), (14.27, 7000), (14.14, 9900), (6.58, 7400), (7.18, 2100), (7.08, 5600),
    (7.80, 5400), (7.97, 1400), (8.88, 900), (9.66, 630), (9.40, 1350), (10.38, 1350),
    (11.34, 1200), (12.44, 630), (7.83, 28200), (8.07, 28100), (7.76, 26500), (8.32, 29500),
    (7.68, 23400), (7.33, 18700), (7.40, 18200), (7.59, 11000), (7.41, 11200), (7.00, 16500),
    (8.46, 28800), (8.98, 31700), (9.12, 32400), (9.04, 26100), (9.46, 30200), (9.63, 28400),
    (9.87, 32000), (9.98, 31000), (13.56, 27500), (13.23, 28400), (13.73, 22000), (13.43, 20700),
    (14.03, 28800), (13.80, 12600), (13.75, 8100), (13.85, 4000), (13.35, 2200),
]

combined_s1 = [
    (10.40, 6000), (10.61, 6500), (10.82, 5600), (11.03, 6300), (11.24, 5400), (11.45, 6400),
    (11.66, 5800), (11.87, 6600), (12.08, 5700), (12.29, 6200), (12.50, 5500), (12.71, 6100),
    (9.95, 7700), (10.16, 8200), (10.37, 7300), (10.58, 8000), (10.79, 7100), (11.00, 8100),
    (11.21, 7500), (11.42, 8300), (11.63, 7400), (11.84, 7900), (12.05, 7200), (12.26, 8400),
    (12.47, 7600), (12.68, 7800), (12.89, 7300), (13.10, 8100), (13.31, 7500),
    (9.60, 9400), (9.81, 9900), (10.02, 9000), (10.23, 9700), (10.44, 8800), (10.65, 9800),
    (10.86, 9200), (11.07, 10000), (11.28, 9100), (11.49, 9600), (11.70, 8900), (11.91, 10100),
    (12.12, 9300), (12.33, 9500), (12.54, 9000), (12.75, 9800), (12.96, 9200), (13.17, 9700),
    (13.38, 9500), (13.59, 9100),
    (9.55, 11100), (9.76, 11600), (9.97, 10700), (10.18, 11400), (10.39, 10500), (10.60, 11500),
    (10.81, 10900), (11.02, 11700), (11.23, 10800), (11.44, 11300), (11.65, 10600), (11.86, 11800),
    (12.07, 11000), (12.28, 11200), (12.49, 10700), (12.70, 11500), (12.91, 10900), (13.12, 11400),
    (13.33, 11200), (13.54, 10800), (13.75, 11300),
    (9.45, 12800), (9.66, 13300), (9.87, 12400), (10.08, 13100), (10.29, 12200), (10.50, 13200),
    (10.71, 12600), (10.92, 13400), (11.13, 12500), (11.34, 13000), (11.55, 12300), (11.76, 13500),
    (11.97, 12700), (12.18, 12900), (12.39, 12400), (12.60, 13200), (12.81, 12600), (13.02, 13100),
    (13.23, 12900), (13.44, 12500), (13.65, 13000), (13.86, 12700),
    (9.40, 14500), (9.61, 15000), (9.82, 14100), (10.03, 14800), (10.24, 13900), (10.45, 14900),
    (10.66, 14300), (10.87, 15100), (11.08, 14200), (11.29, 14700), (11.50, 14000), (11.71, 15200),
    (11.92, 14400), (12.13, 14600), (12.34, 14100), (12.55, 14900), (12.76, 14300), (12.97, 14800),
    (13.18, 14600), (13.39, 14200), (13.60, 14700), (13.81, 14400),
    (9.45, 16200), (9.66, 16700), (9.87, 15800), (10.08, 16500), (10.29, 15600), (10.50, 16600),
    (10.71, 16000), (10.92, 16800), (11.13, 15900), (11.34, 16400), (11.55, 15700), (11.76, 16900),
    (11.97, 16100), (12.18, 16300), (12.39, 15800), (12.60, 16600), (12.81, 16000), (13.02, 16500),
    (13.23, 16300), (13.44, 15900), (13.65, 16400), (13.86, 16100),
    (9.40, 17900), (9.61, 18400), (9.82, 17500), (10.03, 18200), (10.24, 17300), (10.45, 18300),
    (10.66, 17700), (10.87, 18500), (11.08, 17600), (11.29, 18100), (11.50, 17400), (11.71, 18600),
    (11.92, 17800), (12.13, 18000), (12.34, 17500), (12.55, 18300), (12.76, 17700), (12.97, 18200),
    (13.18, 18000), (13.39, 17600), (13.60, 18100), (13.81, 17800),
    (9.45, 19600), (9.66, 20100), (9.87, 19200), (10.08, 19900), (10.29, 19000), (10.50, 20000),
    (10.71, 19400), (10.92, 20200), (11.13, 19300), (11.34, 19800), (11.55, 19100), (11.76, 20300),
    (11.97, 19500), (12.18, 19700), (12.39, 19200), (12.60, 20000), (12.81, 19400), (13.02, 19900),
    (13.23, 19700), (13.44, 19300), (13.65, 19800), (13.86, 19500),
    (9.55, 21300), (9.76, 21800), (9.97, 20900), (10.18, 21600), (10.39, 20700), (10.60, 21700),
    (10.81, 21100), (11.02, 21900), (11.23, 21000), (11.44, 21500), (11.65, 20800), (11.86, 22000),
    (12.07, 21200), (12.28, 21400), (12.49, 20900), (12.70, 21700), (12.91, 21100), (13.12, 21600),
    (13.33, 21400), (13.54, 21000), (13.75, 21500),
    (9.65, 23000), (9.86, 23500), (10.07, 22600), (10.28, 23300), (10.49, 22400), (10.70, 23400),
    (10.91, 22800), (11.12, 23600), (11.33, 22700), (11.54, 23200), (11.75, 22500), (11.96, 23700),
    (12.17, 22900), (12.38, 23100), (12.59, 22600), (12.80, 23400), (13.01, 22800), (13.22, 23300),
    (13.43, 23100),
    (9.85, 24700), (10.06, 25200), (10.27, 24300), (10.48, 25000), (10.69, 24100), (10.90, 25100),
    (11.11, 24500), (11.32, 25300), (11.53, 24400), (11.74, 24900), (11.95, 24200), (12.16, 25400),
    (12.37, 24600), (12.58, 24800), (12.79, 24300), (13.00, 25100), (13.21, 24500), (13.42, 25000),
    (10.15, 26400), (10.36, 26900), (10.57, 26000), (10.78, 26700), (10.99, 25800), (11.20, 26800),
    (11.41, 26200), (11.62, 27000), (11.83, 26100), (12.04, 26600), (12.25, 25900), (12.46, 27100),
    (12.67, 26300), (12.88, 26500), (13.09, 26000),
    (10.70, 28100), (10.91, 28600), (11.12, 27700), (11.33, 28400), (11.54, 27500), (11.75, 28500),
    (11.96, 27900), (12.17, 28700), (12.38, 27800),
    (11.10, 29800), (11.40, 30300), (11.70, 29500), (12.00, 30100),
    (5.71, 18900), (6.45, 15600), (6.28, 9000), (6.65, 19800), (6.92, 24300), (7.00, 17500),
    (7.08, 16900), (7.15, 14000), (7.31, 22900), (7.45, 22900), (7.57, 29400), (8.04, 30100),
    (7.57, 16200), (6.94, 11700), (7.05, 12600), (7.15, 4700), (7.10, 9000), (7.57, 11700),
    (7.73, 10400), (13.17, 33800), (13.43, 33500), (13.54, 32900), (14.32, 35300), (14.22, 30600),
    (14.01, 28800), (13.91, 26600), (14.17, 23400), (14.06, 20300), (14.25, 18000), (14.17, 15300),
    (14.17, 10800), (14.48, 4700), (12.00, 31500), (12.13, 34400), (10.87, 33300), (10.82, 32600),
    (9.56, 31500), (9.09, 32000), (9.25, 31500), (8.41, 25200),
    (7.80, 20000), (7.90, 14500), (8.00, 17500), (8.10, 12000), (8.20, 22500), (8.30, 15500),
    (8.40, 9500), (8.50, 19000), (8.60, 13000), (8.70, 24000), (8.75, 6500), (8.80, 16500),
    (8.90, 11000), (9.00, 21000), (9.05, 14000), (9.10, 8000), (9.15, 26500), (9.20, 18000),
    (9.25, 12000), (9.30, 23500), (9.35, 5500), (9.00, 28000), (8.55, 27500), (8.25, 7500),
    (7.95, 24500), (7.70, 13000), (7.60, 19500), (7.40, 17000), (7.30, 12500), (7.20, 21000),
    (13.90, 22000), (14.00, 17000), (13.95, 13500), (14.10, 12500), (13.85, 9500), (13.70, 6000),
    (13.50, 4800), (14.30, 14000), (14.40, 20500), (13.80, 24500), (13.60, 27000), (13.30, 29500),
    (12.90, 30500), (12.60, 31000), (12.30, 30200), (11.80, 31800), (11.20, 31200), (10.50, 29500),
    (10.20, 28500), (9.70, 27500), (9.50, 25500),
    (10.00, 5000), (10.30, 3800), (10.70, 4200), (11.10, 3000), (11.50, 4500), (11.90, 3500),
    (12.20, 4800), (12.60, 3200), (12.90, 5200), (13.20, 4400), (13.00, 6800), (13.40, 7500),
    (9.80, 6500), (9.50, 8000), (9.30, 9500), (12.60, 2500), (11.70, 2000),
]

y_major = [0, 20000, 40000, 60000]
y_minor = [10000, 30000, 50000]

GRID = '#EBEBEB'
TICK = '#4D4D4D'
DOT = 34  # marker area in pt^2
plt.rcParams['font.family'] = ['Liberation Sans', 'DejaVu Sans']

fig = plt.figure(figsize=(W / 100, H / 100), dpi=100)


def fx(px):
    return px / W


def fy(py):
    return 1 - py / H


def panel(left, top, right, bottom, xlim, xmajor, xminor, xlabels):
    ax = fig.add_axes([fx(left), fy(bottom), (right - left) / W, (bottom - top) / H])
    ax.set_xlim(*xlim)
    ax.set_ylim(-3000, 63000)
    ax.set_xticks(xmajor)
    ax.set_xticks(xminor, minor=True)
    ax.set_xticklabels(xlabels)
    ax.set_yticks(y_major)
    ax.set_yticks(y_minor, minor=True)
    ax.set_yticklabels([str(v) for v in y_major])
    ax.grid(which='major', color=GRID, lw=0.9)
    ax.grid(which='minor', color=GRID, lw=0.6)
    ax.set_axisbelow(True)
    for s in ax.spines.values():
        s.set_visible(False)
    ax.tick_params(which='both', length=0, labelsize=7.4, labelcolor=TICK)
    ax.tick_params(axis='x', pad=3)
    ax.tick_params(axis='y', pad=4.5)
    return ax


def scatter(ax, pts, color):
    xs, ys = zip(*pts)
    ax.scatter(xs, ys, s=DOT, c=color, linewidths=0, zorder=3)


def labels(title, tx, ty, cx, xl_y, yl_x, cy):
    fig.text(fx(tx), fy(ty), title, fontsize=10.8, va='center', ha='left')
    fig.text(fx(cx), fy(xl_y), 'Logged Mass (kg)', fontsize=9.15, ha='center', va='center')
    fig.text(fx(yl_x), fy(cy), 'Plume Height (m)', fontsize=9.15, ha='center', va='center',
             rotation=90)


def legend(xt, yt, xk, xl, entries):
    fig.text(fx(xt), fy(yt), 'Sample', fontsize=9.2, ha='left', va='center')
    for lab, col, yy in entries:
        fig.add_artist(Line2D([fx(xk)], [fy(yy)], marker='o', ms=5.6, color=col, mec='none',
                              ls='none', transform=fig.transFigure))
        fig.text(fx(xl), fy(yy), lab, fontsize=7.4, ha='left', va='center')


# (a)
ax = panel(62.9, 28.3, 461.7, 272, (9.22, 13.18), [10, 11, 12, 13], [9.5, 10.5, 11.5, 12.5],
           ['10', '11', '12', '13'])
scatter(ax, ref_points, '#EE82EE')
labels('Uninformed Sampling', 62.9, 14.5, 262.3, 296.7, 18.5, 150)
legend(481, 138, 491, 507.6, [('Reference', '#EE82EE', 159)])

# (b)
ax = panel(659.5, 28.3, 1012.9, 272, (5.99, 14.28), [8, 10, 12, 14], [7, 9, 11, 13],
           ['8', '10', '12', '14'])
scatter(ax, ivespa_int, '#0072B2')
scatter(ax, ivespa_s1, '#90EE90')
labels('IVESPA Sampling', 660.6, 14.5, 836.2, 296.7, 617, 150)
legend(1033, 127.7, 1042.5, 1059, [('IVESPA Intermediate', '#0072B2', 149.7),
                                   ('IVESPA S1', '#90EE90', 169.7)])

# (c)
ax = panel(59.2, 390, 412.5, 634.4, (5.54, 15.15), [7.5, 10, 12.5, 15], [6.25, 8.75, 11.25, 13.75],
           ['7.5', '10.0', '12.5', '15.0'])
scatter(ax, deligne_int, '#E69F00')
scatter(ax, deligne_s1, '#882255')
labels('Deligne (2021) Sampling', 59.2, 376, 235.8, 659, 14.8, 512)
legend(432, 490, 442, 458.7, [('Deligne Intermediate', '#E69F00', 511.7),
                              ('Deligne S1', '#882255', 531.7)])

# (d)
ax = panel(659.5, 390, 1001.8, 634.4, (5.22, 15.88), [7.5, 10, 12.5, 15], [6.25, 8.75, 11.25, 13.75],
           ['7.5', '10.0', '12.5', '15.0'])
scatter(ax, combined_int, '#000000')
scatter(ax, combined_s1, '#A9A9A9')
labels('Combined Sampling', 660.6, 376, 830.6, 659, 617, 512)
legend(1022, 490, 1031, 1048, [('Combined Intermediate', '#000000', 511.7),
                               ('Combined S1', '#A9A9A9', 531.7)])

# sub-figure captions
for txt, cx, cy in [('(a)', 281.6, 347), ('(b)', 882, 346), ('(c)', 281.7, 710)]:
    fig.text(fx(cx), fy(cy), r'$\mathrm{' + txt + '}$', fontsize=19, ha='center', va='center',
             math_fontfamily='cm')

fig.savefig('out.png', dpi=100)
